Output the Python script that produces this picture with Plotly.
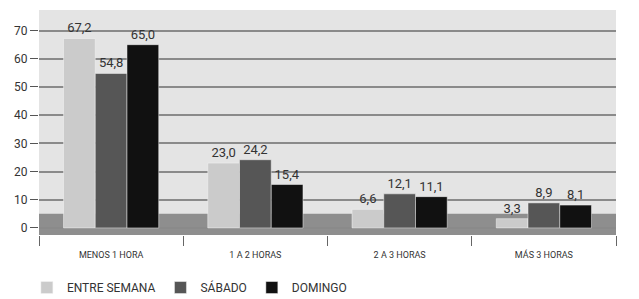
import plotly.graph_objects as go

categories = ["MENOS 1 HORA", "1 A 2 HORAS", "2 A 3 HORAS", "MÁS 3 HORAS"]
series_names = ["ENTRE SEMANA", "SÁBADO", "DOMINGO"]
entre_semana = [67.2, 23.0, 6.6, 3.3]
sabado = [54.8, 24.2, 12.1, 8.9]
domingo = [65.0, 15.4, 11.1, 8.1]
y_ticks = [0, 10, 20, 30, 40, 50, 60, 70]

colors = ["#cbcbcb", "#565656", "#111111"]
values = [entre_semana, sabado, domingo]

fig = go.Figure()
for name, vals, col in zip(series_names, values, colors):
    fig.add_trace(go.Bar(
        x=categories, y=vals, name=name,
        marker=dict(color=col, line=dict(color="#f4f4f4", width=0.5)),
        text=[f"{v:.1f}".replace(".", ",") for v in vals],
        textposition="outside",
        textfont=dict(size=13, color="#333333"),
        cliponaxis=False,
    ))

# floor band
fig.add_shape(type="rect", xref="paper", yref="y", x0=0, x1=1, y0=-2.5, y1=5.0,
              fillcolor="#8e8e8e", line=dict(width=0), layer="between")

fig.update_layout(
    width=631, height=291,
    margin=dict(l=31, r=23, t=2, b=64, autoexpand=False),
    paper_bgcolor="white",
    plot_bgcolor="#e4e4e4",
    barmode="group",
    bargap=0.34,
    bargroupgap=0.0,
    font=dict(family="Roboto, sans-serif", color="#333333"),
    showlegend=True,
    legend=dict(orientation="h", x=-0.021, xanchor="left", y=-0.169, yanchor="top",
                font=dict(size=12, color="#333333"), itemwidth=30,
                traceorder="normal"),
    xaxis=dict(
        tickson="boundaries", ticks="outside", ticklen=10, tickcolor="#666666",
        tickfont=dict(size=9, color="#333333"), showgrid=False, showline=False,
        ticklabelstandoff=13,
    ),
    yaxis=dict(
        range=[-2.5, 77.3], tickvals=y_ticks, ticks="outside", ticklen=8,
        tickcolor="#555555", tickfont=dict(size=12, color="#333333"),
        showgrid=True, gridcolor="#8a8a8a", gridwidth=2,
        zeroline=False, showline=False,
    ),
)

fig.write_html("out.html")
